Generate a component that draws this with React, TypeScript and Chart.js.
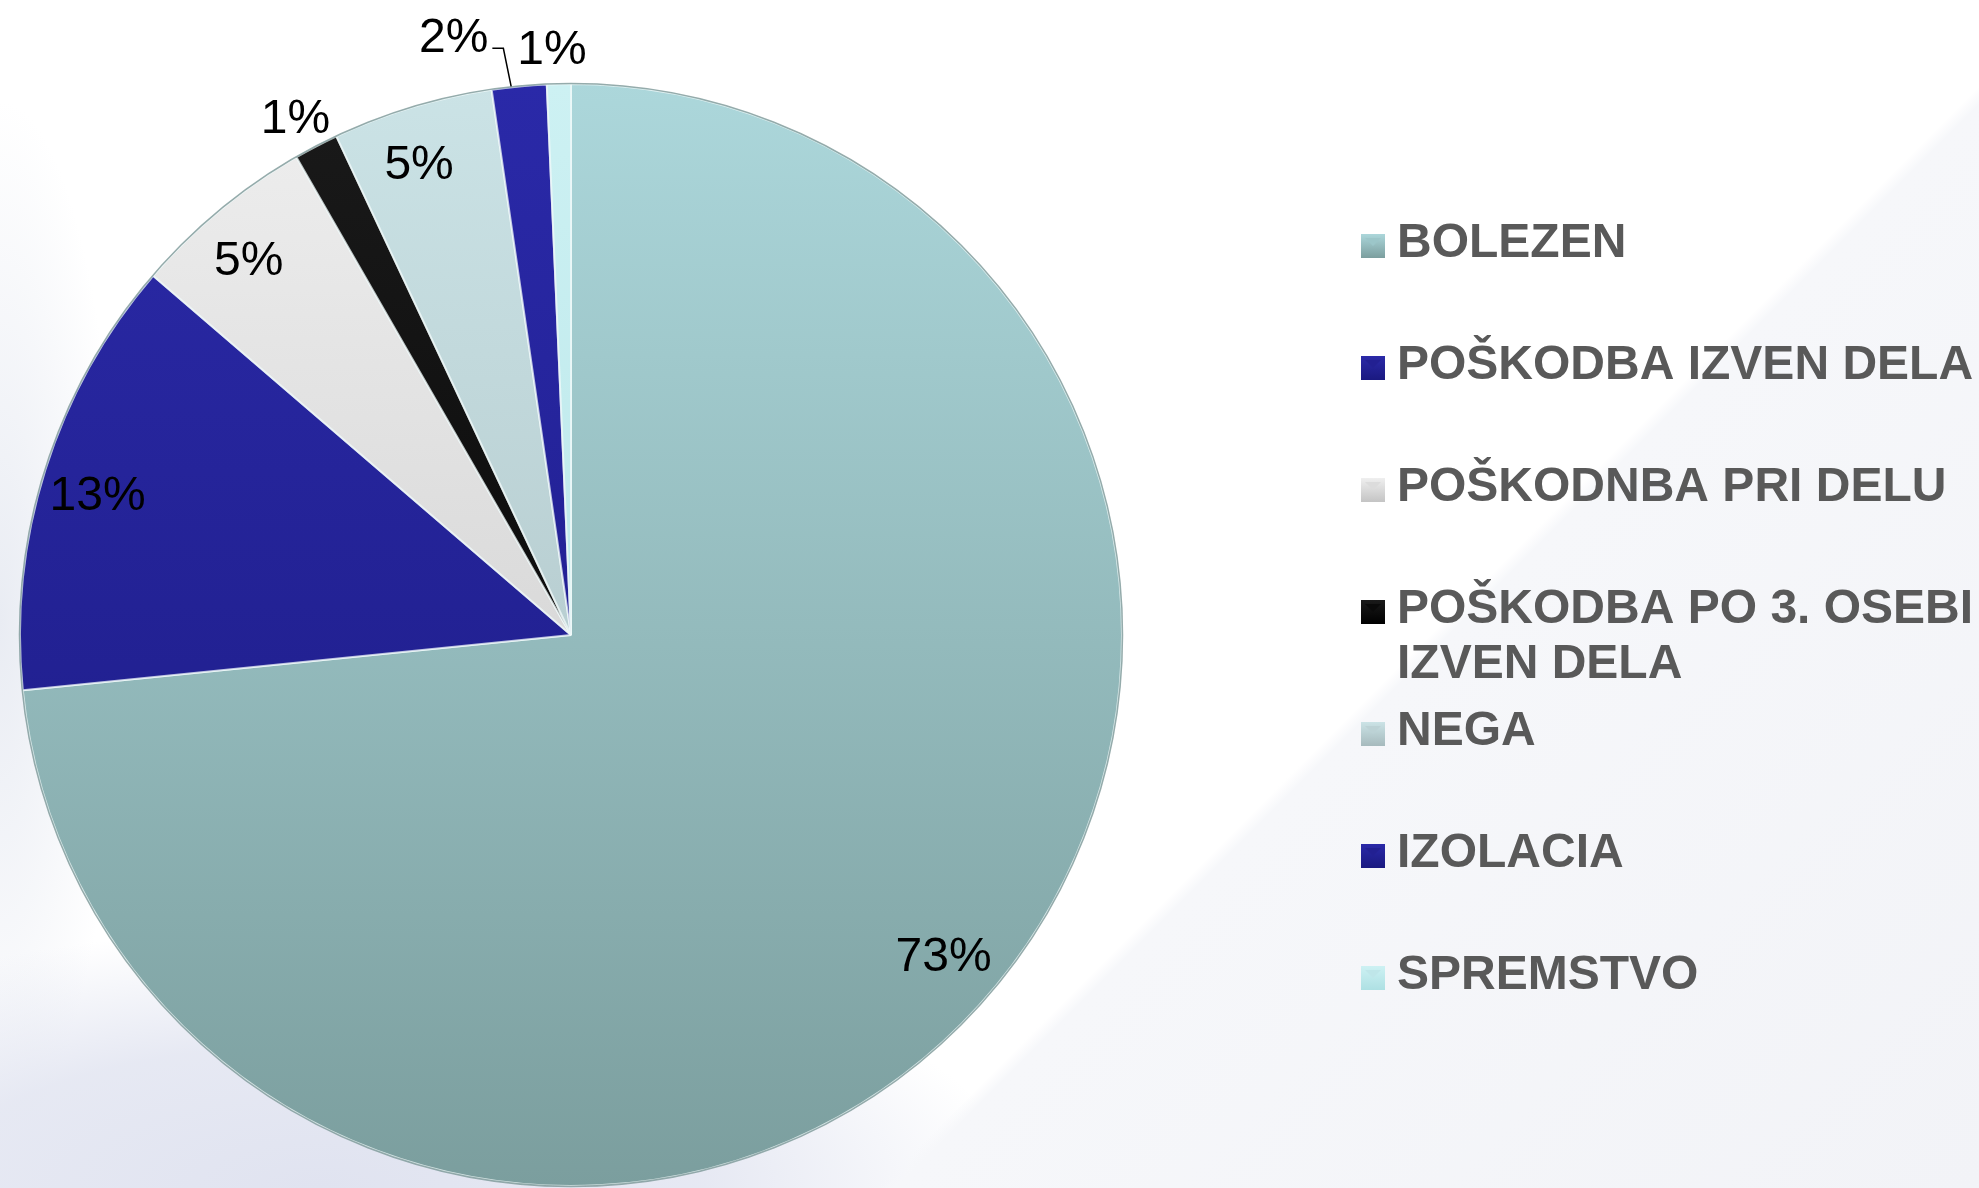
import React, { useEffect, useRef } from "react";
import { Chart, registerables } from "chart.js";

Chart.register(...registerables);

// ---- data ----
const categories: string[] = [
  "BOLEZEN",
  "POŠKODBA IZVEN DELA",
  "POŠKODNBA PRI DELU",
  "POŠKODBA PO 3. OSEBI IZVEN DELA",
  "NEGA",
  "IZOLACIA",
  "SPREMSTVO",
];
const shares: number[] = [73.4, 12.9, 5.4, 1.3, 4.7, 1.6, 0.7];

// ---- styles ----
const colorTop: string[] = ["#acd7db", "#2b2aa8", "#efefef", "#1a1a1a", "#cbe3e6", "#2a29a8", "#cdf1f3"];
const colorBottom: string[] = ["#7b9e9e", "#1a1980", "#c4c4c4", "#000000", "#a6babd", "#1a1980", "#aee0e3"];
const legendBoxColor: string[] = ["#9cc6c9", "#222092", "#dcdcdc", "#0a0a0a", "#bcd2d5", "#222092", "#bfe6e9"];

const LABEL_FONT = '48px "Liberation Sans", Arial, sans-serif';
const LEGEND_FONT = 'bold 48px "Liberation Sans", Arial, sans-serif';
const INSIDE_ANGLE_SHIFT = (-1.2 * Math.PI) / 180;
const OUTSIDE_ANGLE_SHIFT = (-0.6 * Math.PI) / 180;

const sliceGradient = (c: any) => {
  const chart = c.chart;
  const i = c.dataIndex;
  const area = chart.chartArea;
  if (!area) return colorTop[i];
  const g = chart.ctx.createLinearGradient(0, area.top, 0, area.bottom);
  g.addColorStop(0, colorTop[i]);
  g.addColorStop(1, colorBottom[i]);
  return g;
};

const pieOutline = {
  id: "pieOutline",
  afterDatasetsDraw(chart: any) {
    const ctx = chart.ctx as CanvasRenderingContext2D;
    const meta = chart.getDatasetMeta(0);
    const arc = meta.data[0];
    if (!arc) return;
    const { x, y, outerRadius } = arc.getProps(["x", "y", "outerRadius"], true);
    ctx.save();
    ctx.strokeStyle = "rgba(70,105,105,0.55)";
    ctx.lineWidth = 1.5;
    ctx.beginPath();
    ctx.arc(x, y, outerRadius + 0.5, 0, Math.PI * 2);
    ctx.stroke();
    ctx.restore();
  },
};

const percentLabels = {
  id: "percentLabels",
  afterDatasetsDraw(chart: any) {
    const ctx = chart.ctx as CanvasRenderingContext2D;
    const meta = chart.getDatasetMeta(0);
    const data = chart.data.datasets[0].data as number[];
    const total = data.reduce((a, b) => a + b, 0);
    ctx.save();
    ctx.font = LABEL_FONT;
    ctx.fillStyle = "#000000";
    ctx.textAlign = "center";
    ctx.textBaseline = "middle";
    const placed: { x: number; y: number; w: number; h: number }[] = [];
    for (let i = meta.data.length - 1; i >= 0; i--) {
      const arc = meta.data[i];
      const { x, y, startAngle, endAngle, outerRadius } = arc.getProps(
        ["x", "y", "startAngle", "endAngle", "outerRadius"],
        true
      );
      const mid = (startAngle + endAngle) / 2;
      const pct = Math.round((data[i] / total) * 100);
      const text = pct + "%";
      const inside = pct >= 3;
      const la = mid + (inside ? INSIDE_ANGLE_SHIFT : OUTSIDE_ANGLE_SHIFT);
      const r = inside ? outerRadius * 0.895 : outerRadius * 1.06;
      let lx = x + Math.cos(la) * r;
      let ly = y + Math.sin(la) * r;
      const w = ctx.measureText(text).width;
      const h = 36;
      let leader = false;
      if (!inside) {
        for (const p of placed) {
          if (Math.abs(lx - p.x) < (w + p.w) / 2 + 4 && Math.abs(ly - p.y) < (h + p.h) / 2) {
            lx = p.x - (w + p.w) / 2 - 29;
            ly = p.y - 12;
            leader = true;
          }
        }
        placed.push({ x: lx, y: ly, w, h });
      }
      if (leader) {
        const ex = x + Math.cos(mid) * outerRadius;
        const ey = y + Math.sin(mid) * outerRadius;
        ctx.save();
        ctx.strokeStyle = "#000000";
        ctx.lineWidth = 1.5;
        ctx.beginPath();
        ctx.moveTo(lx + w / 2 + 4, ly + 9);
        ctx.lineTo(lx + w / 2 + 15, ly + 9);
        ctx.lineTo(ex - 8, ey);
        ctx.stroke();
        ctx.restore();
      }
      ctx.fillText(text, lx, ly);
    }
    ctx.restore();
  },
};

const LEGEND_X = 1361;
const LEGEND_Y0 = 244;
const LEGEND_PITCH = 122;
const LEGEND_LINE = 55;
const LEGEND_BOX = 24;

const sideLegend = {
  id: "sideLegend",
  afterDraw(chart: any) {
    const ctx = chart.ctx as CanvasRenderingContext2D;
    const labels = chart.data.labels as string[];
    ctx.save();
    ctx.font = LEGEND_FONT;
    ctx.textAlign = "left";
    ctx.textBaseline = "middle";
    const textX = LEGEND_X + LEGEND_BOX + 12;
    const maxW = chart.width - textX - 2;
    labels.forEach((label, i) => {
      const yc = LEGEND_Y0 + i * LEGEND_PITCH;
      const bx = LEGEND_X;
      const by = yc - LEGEND_BOX / 2 + 2;
      const g = ctx.createLinearGradient(bx, by, bx, by + LEGEND_BOX);
      g.addColorStop(0, colorTop[i]);
      g.addColorStop(1, colorBottom[i]);
      ctx.fillStyle = g;
      ctx.fillRect(bx, by, LEGEND_BOX, LEGEND_BOX);
      ctx.fillStyle = legendBoxColor[i];
      ctx.beginPath();
      ctx.moveTo(bx + 4, by + 4);
      ctx.lineTo(bx + LEGEND_BOX - 4, by + 4);
      ctx.lineTo(bx + LEGEND_BOX / 2, by + LEGEND_BOX / 2);
      ctx.closePath();
      ctx.fill();
      const words = label.split(" ");
      const lines: string[] = [];
      let cur = "";
      for (const wd of words) {
        const t = cur ? cur + " " + wd : wd;
        if (cur && ctx.measureText(t).width > maxW) {
          lines.push(cur);
          cur = wd;
        } else cur = t;
      }
      if (cur) lines.push(cur);
      ctx.fillStyle = "#595959";
      lines.forEach((ln, k) => ctx.fillText(ln, textX, yc + k * LEGEND_LINE));
    });
    ctx.restore();
  },
};

export default function App() {
  const ref = useRef<HTMLCanvasElement | null>(null);
  useEffect(() => {
    if (!ref.current) return;
    const chart = new Chart(ref.current, {
      type: "pie",
      data: {
        labels: categories,
        datasets: [
          {
            data: shares,
            backgroundColor: sliceGradient as any,
            borderColor: "rgba(240,250,250,0.75)",
            borderWidth: 2,
          },
        ],
      },
      options: {
        responsive: false,
        animation: false,
        layout: { padding: { left: 19, top: 83, right: 856, bottom: 1 } },
        plugins: { legend: { display: false }, tooltip: { enabled: false } },
      },
      plugins: [pieOutline, percentLabels, sideLegend],
    });
    return () => chart.destroy();
  }, []);
  return (
    <div
      style={{
        position: "fixed",
        left: 0,
        top: 0,
        width: 1979,
        height: 1188,
        background:
          "linear-gradient(135deg, rgba(244,245,249,0) 0%, rgba(244,245,249,0) 65.2%, #f6f7fa 65.8%, #f2f3f7 100%), " +
          "radial-gradient(ellipse 700px 260px at 320px 1188px, rgba(224,227,240,1) 0%, rgba(226,229,241,0.85) 55%, rgba(226,229,241,0) 100%), " +
          "radial-gradient(ellipse 120px 520px at 0px 620px, rgba(233,236,243,1) 0%, rgba(255,255,255,0) 100%), " +
          "#ffffff",
      }}
    >
      <canvas ref={ref} width={1979} height={1188} style={{ display: "block" }} />
    </div>
  );
}
